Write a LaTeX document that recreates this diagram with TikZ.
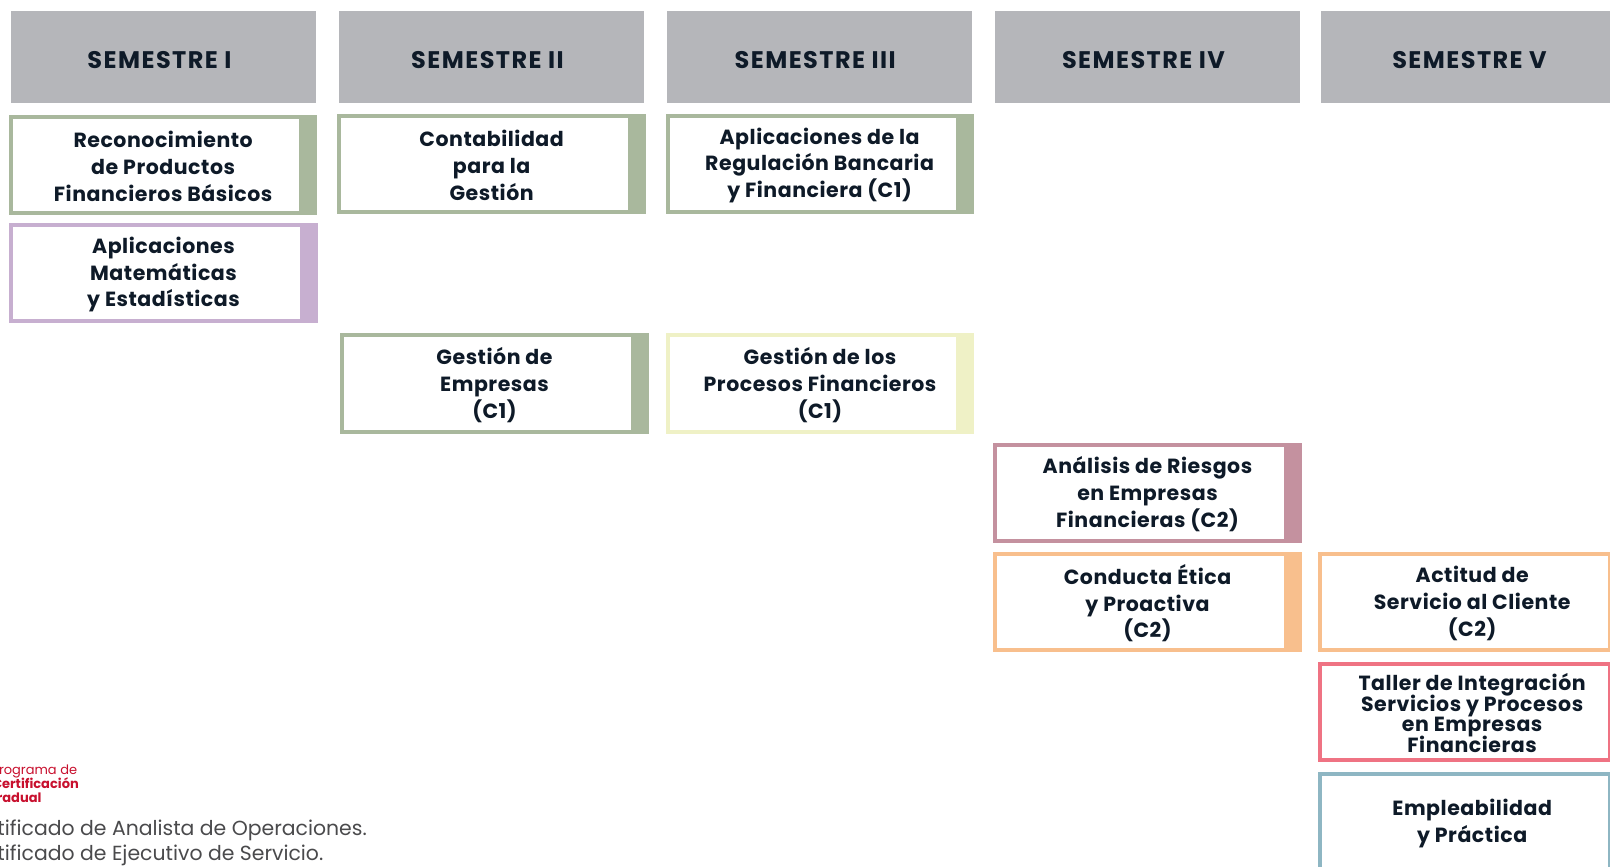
\documentclass[tikz,border=0pt]{standalone}
\usepackage{fontspec}
\setmainfont{Poppins}
\newfontfamily\boxfont[LetterSpace=2.6]{Poppins}
\newfontfamily\hdrfont[LetterSpace=6]{Poppins}
\newcommand\noskipfix{\lineskiplimit=-30pt\relax\lineskip=0pt\relax}
\definecolor{hdr}{HTML}{B5B6BA}
\definecolor{cgreen}{HTML}{A9B89D}
\definecolor{cpurple}{HTML}{C7AFD0}
\definecolor{cyellow}{HTML}{EFF1C6}
\definecolor{cmauve}{HTML}{C4919F}
\definecolor{corange}{HTML}{F8BF8D}
\definecolor{cred}{HTML}{EF7383}
\definecolor{cblue}{HTML}{8EB6C3}
\definecolor{navy}{HTML}{0E1A28}
\definecolor{logored}{HTML}{C8102E}
\definecolor{notegray}{HTML}{4A4A4C}
\tikzset{
  boxtext/.style={align=center, inner sep=0pt, text=navy, font=\boxfont\bfseries\fontsize{20.5}{26.7}\selectfont\noskipfix},
  tighttext/.style={align=center, inner sep=0pt, text=navy, font=\boxfont\bfseries\fontsize{20.5}{20.5}\selectfont\noskipfix},
  hdrtext/.style={inner sep=0pt, text=navy, font=\hdrfont\bfseries\fontsize{24}{26}\selectfont},
  logotext/.style={inner sep=0pt, text=logored, font=\fontsize{13}{14}\selectfont},
  logobold/.style={inner sep=0pt, text=logored, font=\bfseries\fontsize{13}{14}\selectfont},
  notetext/.style={inner sep=0pt, text=notegray, font=\fontsize{20.4}{25}\selectfont}
}
\newcommand\cbox[8][boxtext]{%
  \fill[#3] (#4,#5) rectangle (#6,#7);
  \fill[white] (#4+4,#5+4) rectangle (#6-18,#7-4);
  \node[#1] (#2) at ({(#4+#6)/2},{(#5+#7)/2+1.5}) {#8};
}
\newcommand\semhead[4]{%
  \fill[hdr] (#2,11) rectangle (#3,102.7);
  \node[hdrtext] (#1) at ({(#2+#3)/2-4},60.5) {#4};
}
\begin{document}
\begin{tikzpicture}[x=1pt,y=-1pt]
\useasboundingbox (0,0) rectangle (1610,867);
\clip (0,0) rectangle (1610,867);
\fill[white] (0,0) rectangle (1610,867);

\semhead{h1}{11}{316}{SEMESTRE I}
\semhead{h2}{339}{644}{SEMESTRE II}
\semhead{h3}{667}{971.5}{SEMESTRE III}
\semhead{h4}{995}{1300}{SEMESTRE IV}
\semhead{h5}{1321}{1626}{SEMESTRE V}

\cbox{b1}{cgreen}{9.3}{115}{317}{215}{Reconocimiento\\de Productos\\Financieros Básicos}
\cbox{b2}{cpurple}{9.3}{223.3}{317.7}{323.3}{Aplicaciones\\Matemáticas\\y Estadísticas}
\cbox{b3}{cgreen}{337.3}{114}{646}{214}{Contabilidad\\para la\\Gestión}
\cbox{b4}{cgreen}{665.7}{114}{973.5}{214}{Aplicaciones de la\\Regulación Bancaria\\y Financiera (C1)}
\cbox{b5}{cgreen}{340}{333.3}{649}{434}{Gestión de\\Empresas\\(C1)}
\cbox{b6}{cyellow}{665.7}{333.3}{974.3}{434}{Gestión de los\\Procesos Financieros\\(C1)}
\cbox{b7}{cmauve}{993.3}{442.7}{1301.7}{542.7}{Análisis de Riesgos\\en Empresas\\Financieras (C2)}
\cbox{b8}{corange}{993.3}{551.7}{1301.7}{651.7}{Conducta Ética\\y Proactiva\\(C2)}
\cbox{b9}{corange}{1318.3}{552}{1626}{652}{Actitud de\\Servicio al Cliente\\(C2)}
\cbox[tighttext]{b10}{cred}{1318.3}{661.7}{1626}{761.7}{Taller de Integración\\Servicios y Procesos\\en Empresas\\Financieras}
\cbox{b11}{cblue}{1318.3}{771.7}{1626}{871.7}{Empleabilidad\\y Práctica}

\node[logotext, anchor=base east] (lg1) at (77.3,774.3) {Programa de};
\node[logobold, anchor=base east] (lg2) at (79,788) {Certificación};
\node[logobold, anchor=base east] (lg3) at (41.7,802.7) {Gradual};

\node[notetext, anchor=base east] (n1) at (367,835) {Certificado de Analista de Operaciones.};
\node[notetext, anchor=base west] (n2) at ([yshift=-25pt]n1.base west) {Certificado de Ejecutivo de Servicio.};
\end{tikzpicture}
\end{document}
